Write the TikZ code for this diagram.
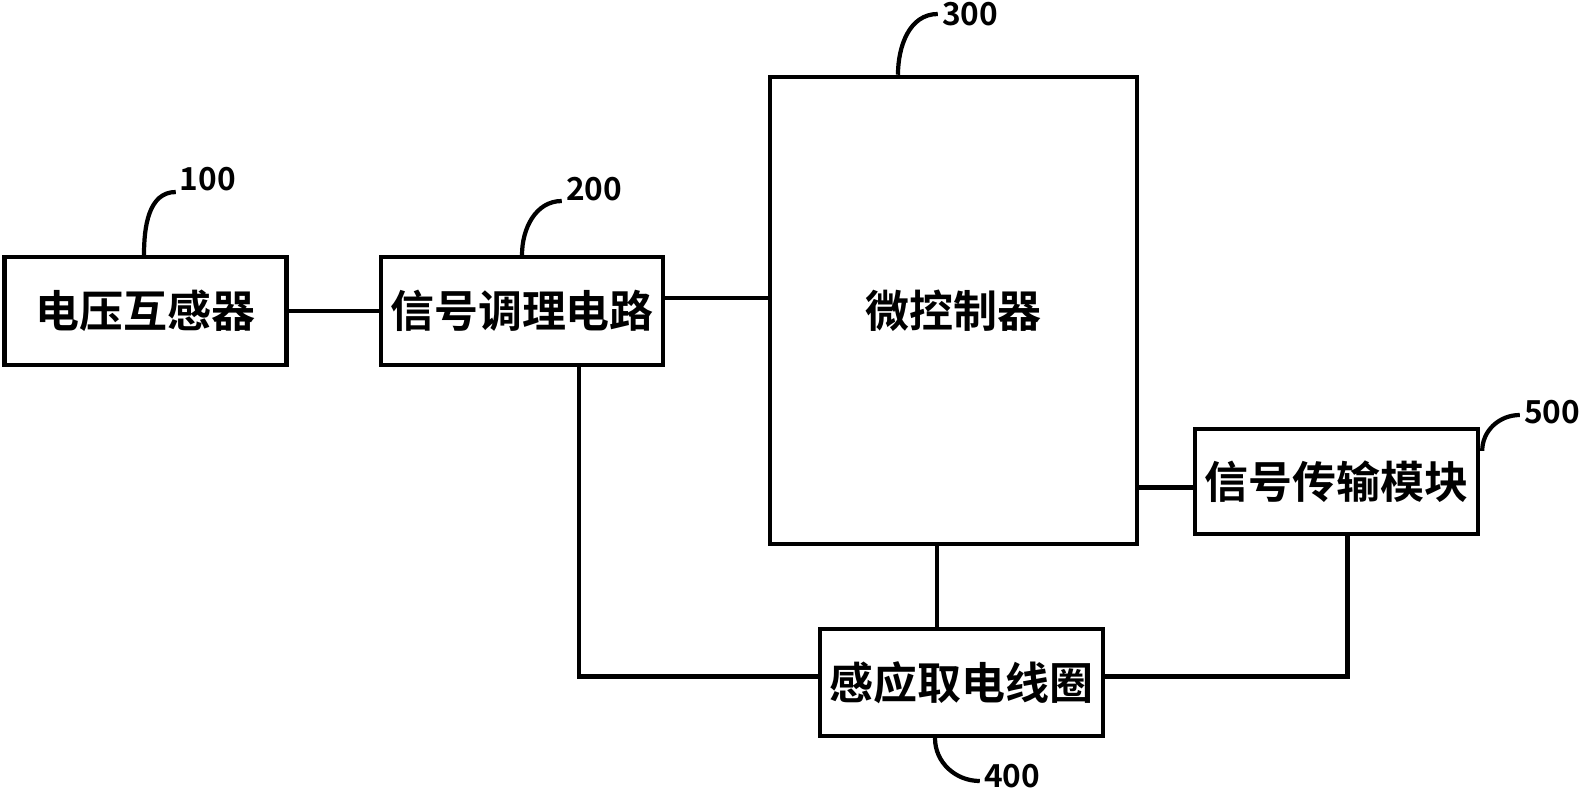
\documentclass[tikz,border=0pt]{standalone}
\usepackage{fontspec}
\newfontfamily\cjk{Noto Sans CJK SC}[BoldFont={Noto Sans CJK SC Bold}]
\usepackage{tikz}

\begin{document}
\begin{tikzpicture}[
  x=0.01cm, y=-0.01cm,
  box/.style = {draw, line width=1.2pt, inner sep=0pt, minimum width=#1,
                font=\cjk\bfseries\fontsize{12.5}{14}\selectfont},
  box/.default = 2.82cm,
  num/.style = {font=\cjk\bfseries\fontsize{9}{11}\selectfont, inner sep=1pt},
  wire/.style = {line width=1.2pt},
  lead/.style = {line width=1.2pt}
]
  \useasboundingbox (0,0) rectangle (1580,794);

  % blocks
  \node[box, minimum height=1.08cm]          (pt)   at (145.5,311) {电压互感器};
  \node[box, minimum height=1.08cm]          (cond) at (522,311)   {信号调理电路};
  \node[box=3.67cm, minimum height=4.67cm]   (mcu)  at (953.5,310.5) {微控制器};
  \node[box=2.83cm, minimum height=1.05cm]   (tx)   at (1336.5,481.5) {信号传输模块};
  \node[box=2.83cm, minimum height=1.07cm]   (coil) at (961.5,682.5) {感应取电线圈};

  % reference numbers
  \node[num] (n100) at (208,179) {100};
  \node[num] (n200) at (594,189) {200};
  \node[num] (n300) at (970,14)  {300};
  \node[num] (n500) at (1552,412) {500};
  \node[num] (n400) at (1012,776) {400};

  % wires
  \draw[wire] (pt.east) -- (cond.west);
  \draw[wire] ([yshift=0.13cm]cond.east) -- ([yshift=0.13cm]mcu.west |- cond.east);
  \draw[wire] ([yshift=-0.06cm]tx.west) -- ([yshift=-0.06cm]mcu.east |- tx.west);
  \draw[wire] ([xshift=-0.165cm]mcu.south) -- ([xshift=-0.165cm]mcu.south |- coil.north);
  \draw[wire] ([xshift=0.57cm]cond.south) |- ([yshift=0.06cm]coil.west);
  \draw[wire] ([yshift=0.06cm]coil.east) -| ([xshift=0.11cm]tx.south);

  % leader curves
  \draw[lead] ([xshift=-0.015cm]pt.north) to[out=90, in=180] ([yshift=-0.13cm]n100.west);
  \draw[lead] ([xshift=0cm]cond.north) to[out=90, in=180] ([yshift=-0.12cm]n200.west);
  \draw[lead] ([xshift=-0.555cm]mcu.north) to[out=90, in=180] (n300.west);
  \draw[lead] ([xshift=0.02cm, yshift=-0.24cm]tx.north east) to[out=90, in=180] ([yshift=-0.03cm]n500.west);
  \draw[lead] ([xshift=-0.265cm]coil.south) to[out=-90, in=180] ([yshift=-0.05cm]n400.west);
\end{tikzpicture}
\end{document}
